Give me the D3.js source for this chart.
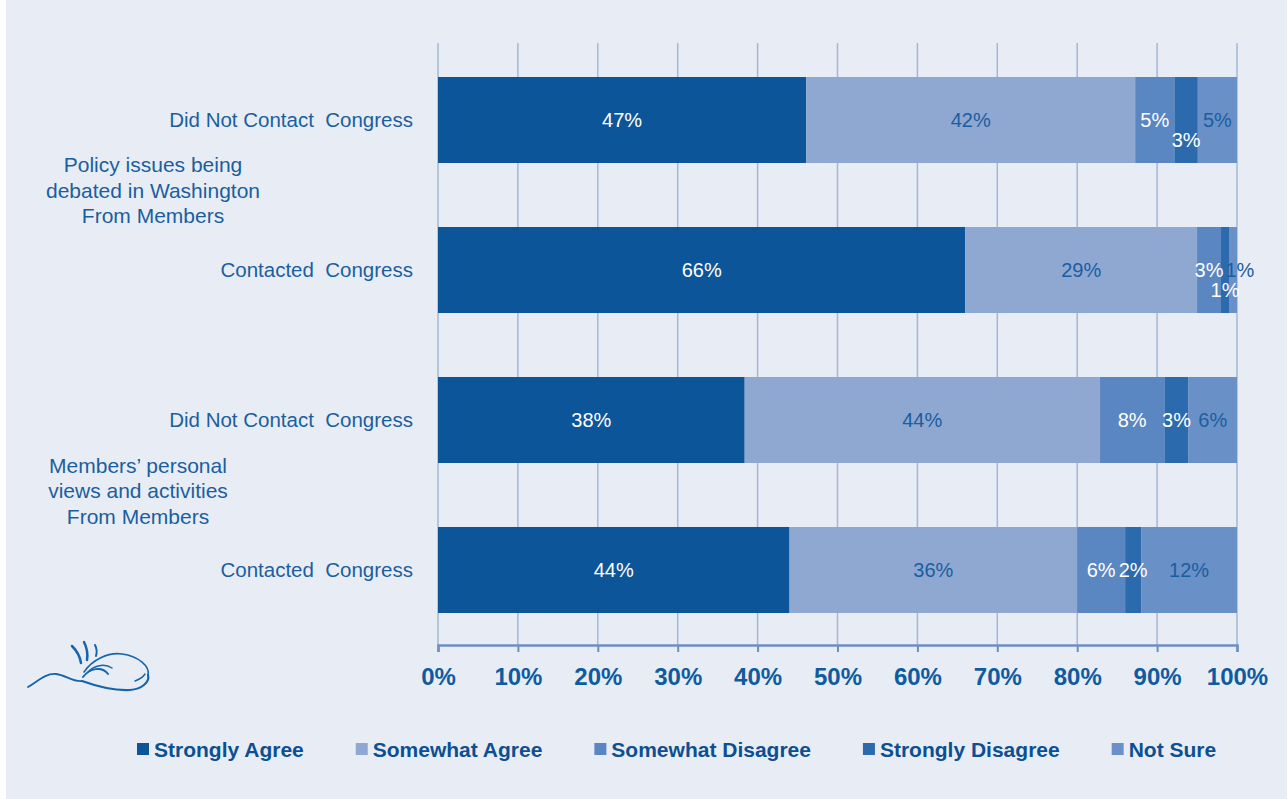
<!DOCTYPE html>
<html>
<head>
<meta charset="utf-8">
<script src="https://cdn.jsdelivr.net/npm/d3@7/dist/d3.min.js"></script>
<style>
  body { margin: 0; background: #ffffff; }
  text { font-family: 'Liberation Sans', Arial, sans-serif; }
</style>
</head>
<body>
<svg width="1287" height="799"></svg>
<script>
// chart data
var seriesNames = ['Strongly Agree', 'Somewhat Agree', 'Somewhat Disagree', 'Strongly Disagree', 'Not Sure'];
var rowLabels = ['Did Not Contact  Congress', 'Contacted  Congress', 'Did Not Contact  Congress', 'Contacted  Congress'];
var groupLabels = [
    ['Policy issues being', 'debated in Washington', 'From Members'],
    ['Members\u2019 personal', 'views and activities', 'From Members']
];
var stronglyAgree = [47, 66, 38, 44];
var somewhatAgree = [42, 29, 44, 36];
var somewhatDisagree = [5, 3, 8, 6];
var stronglyDisagree = [3, 1, 3, 2];
var notSure = [5, 1, 6, 12];
var xTicks = [0, 10, 20, 30, 40, 50, 60, 70, 80, 90, 100];

var seriesColors = ['#0b5598', '#8ea8d2', '#5a86c1', '#2c6aae', '#6a90c8'];
var labelColors = ['#ffffff', '#1b5e9f', '#ffffff', '#ffffff', '#1b5e9f'];

var svg = d3.select('svg');
var svgWidth = +svg.attr('width');
var svgHeight = +svg.attr('height');

// page background
svg.append('rect')
    .attr('x', 6).attr('y', 0)
    .attr('width', svgWidth - 6).attr('height', svgHeight)
    .attr('fill', '#e8edf5');

var plot = { l: 438, r: 1237, t: 45, b: 645 };

var xScale = d3.scaleLinear().domain([0, 100]).range([plot.l, plot.r]);
var yScale = d3.scaleBand()
    .domain(d3.range(rowLabels.length))
    .range([plot.t, plot.b])
    .paddingInner(0.4267)
    .paddingOuter(0.2133);

// build rows, 100% stacked like the original (each row normalised)
var rows = rowLabels.map(function(label, i) {
    var vals = [stronglyAgree[i], somewhatAgree[i], somewhatDisagree[i], stronglyDisagree[i], notSure[i]];
    var total = d3.sum(vals);
    var acc = 0;
    var segs = vals.map(function(v, k) {
        var s = { series: k, value: v, x0: acc / total * 100 };
        acc += v;
        s.x1 = acc / total * 100;
        return s;
    });
    return { id: i, label: label, segs: segs };
});

// gridlines
svg.append('g').selectAll('line')
    .data(xTicks)
    .enter().append('line')
    .attr('x1', d => xScale(d)).attr('x2', d => xScale(d))
    .attr('y1', plot.t - 2).attr('y2', plot.b)
    .attr('stroke', '#a3b7d9').attr('stroke-width', 1.5);

// bars
var rowG = svg.selectAll('.row')
    .data(rows)
    .enter().append('g')
    .attr('class', 'row')
    .attr('transform', d => 'translate(0,' + yScale(d.id) + ')');

rowG.selectAll('rect')
    .data(d => d.segs)
    .enter().append('rect')
    .attr('x', d => xScale(d.x0))
    .attr('width', d => xScale(d.x1) - xScale(d.x0))
    .attr('y', 0)
    .attr('height', yScale.bandwidth())
    .attr('fill', d => seriesColors[d.series]);

// value labels, small crowded ones are pushed down a line
rowG.each(function(row) {
    var g = d3.select(this);
    var mid = yScale.bandwidth() / 2;
    var labels = row.segs.map(function(s) {
        var t = g.append('text')
            .attr('x', xScale((s.x0 + s.x1) / 2))
            .attr('y', mid + 7)
            .attr('text-anchor', 'middle')
            .style('font-size', '20px')
            .attr('fill', labelColors[s.series])
            .text(s.value + '%');
        return { node: t, cx: xScale((s.x0 + s.x1) / 2), w: t.node().getComputedTextLength(), down: false };
    });
    labels.forEach(function(lb, k) {
        var prev = labels[k - 1], next = labels[k + 1];
        if (!prev || !next) return;
        var hitPrev = lb.cx - prev.cx < (lb.w + prev.w) / 2 + 8;
        var hitNext = next.cx - lb.cx < (lb.w + next.w) / 2 + 8;
        if (hitPrev && hitNext) {
            lb.down = true;
            lb.node.attr('y', mid + 27);
        }
    });
    // labels left on the top line must not sit on each other
    var lastTop = null;
    labels.forEach(function(lb) {
        if (lb.down) return;
        if (lastTop) {
            var minX = lastTop.cx + (lastTop.w + lb.w) / 2 + 2;
            if (lb.cx < minX) {
                lb.cx = minX;
                lb.node.attr('x', lb.cx);
            }
        }
        lastTop = lb;
    });
});

// row labels
svg.append('g').selectAll('text')
    .data(rows)
    .enter().append('text')
    .attr('x', 413)
    .attr('y', d => yScale(d.id) + yScale.bandwidth() / 2 + 7)
    .attr('text-anchor', 'end')
    .style('font-size', '20.5px')
    .style('white-space', 'pre')
    .attr('fill', '#1b5e9f')
    .text(d => d.label);

// group labels, centred between their two rows
groupLabels.forEach(function(lines, gi) {
    var yMid = (yScale(gi * 2) + yScale(gi * 2 + 1) + yScale.bandwidth()) / 2;
    var t = svg.append('text')
        .attr('text-anchor', 'middle')
        .style('font-size', '21px')
        .attr('fill', '#1b5e9f');
    lines.forEach(function(line, li) {
        t.append('tspan')
            .attr('x', gi === 0 ? 153 : 138)
            .attr('y', yMid + 3 + (li - 1) * 25.5)
            .text(line);
    });
});

// x axis
var xAxis = svg.append('g')
    .attr('transform', 'translate(0,' + plot.b + ')')
    .call(d3.axisBottom(xScale).tickValues(xTicks).tickSize(7).tickFormat(d => d + '%'));
xAxis.select('.domain').attr('stroke', '#6d8ec5').attr('stroke-width', 2.5);
xAxis.selectAll('.tick line').attr('stroke', '#6d8ec5').attr('stroke-width', 2);
xAxis.selectAll('.tick text')
    .attr('y', 40).attr('dy', 0)
    .style('font-size', '24px')
    .style('font-weight', 'bold')
    .style('font-family', "'Liberation Sans', Arial, sans-serif")
    .attr('fill', '#0e5ba0');

// legend
var legendG = svg.append('g').attr('transform', 'translate(137,749)');
var lx = 0;
seriesNames.forEach(function(name, i) {
    var item = legendG.append('g').attr('transform', 'translate(' + lx + ',0)');
    item.append('rect')
        .attr('x', 0).attr('y', -6)
        .attr('width', 12).attr('height', 12)
        .attr('fill', seriesColors[i]);
    var t = item.append('text')
        .attr('x', 17).attr('y', 7.5)
        .style('font-size', '21px')
        .style('font-weight', 'bold')
        .attr('fill', '#0c4f92')
        .text(name);
    lx += 17 + t.node().getComputedTextLength() + 52;
});

// little whale logo, bottom left
var logo = svg.append('g')
    .attr('fill', 'none')
    .attr('stroke', '#1565ad')
    .attr('stroke-linecap', 'round');
logo.append('path').attr('stroke-width', 1.8)
    .attr('d', 'M28,687 C38,681 46,673 56,674 C66,675 72,682 82,681');
logo.append('path').attr('stroke-width', 2.2)
    .attr('d', 'M82,681 C96,686 112,691 130,690 C142,689 150,682 148,675');
logo.append('path').attr('stroke-width', 1.6)
    .attr('d', 'M84,672 C92,660 108,652 122,654 C138,656 150,666 148,675');
logo.append('path').attr('stroke-width', 2)
    .attr('d', 'M83,677 C90,668 102,666 108,674');
logo.append('path').attr('stroke-width', 1.5)
    .attr('d', 'M88,672 C96,664 106,664 112,668');
logo.append('path').attr('stroke-width', 1.5)
    .attr('d', 'M135,681 C140,679 143,677 145,674');
logo.append('path').attr('stroke-width', 2.5)
    .attr('d', 'M72,646 C76,650 80,656 81,663');
logo.append('path').attr('stroke-width', 2.5)
    .attr('d', 'M84,642 C87,648 88,654 87,660');
logo.append('path').attr('stroke-width', 2)
    .attr('d', 'M95,645 C97,649 97,653 96,656');
</script>
</body>
</html>
